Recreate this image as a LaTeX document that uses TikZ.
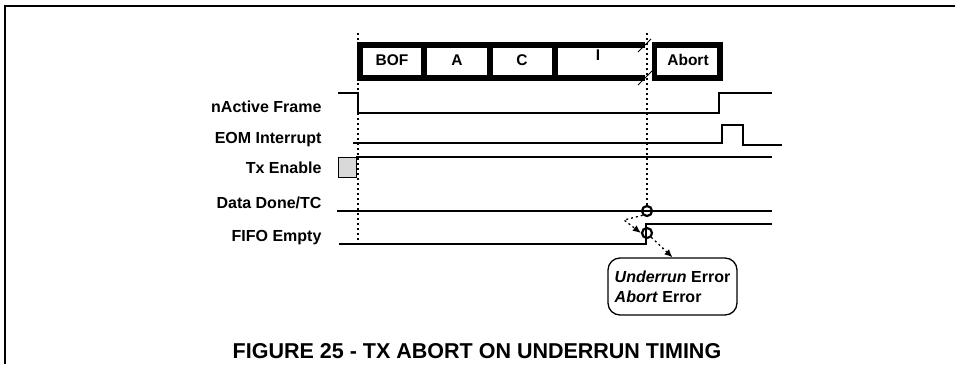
\documentclass[tikz,border=0pt]{standalone}
\usepackage{fontspec}
\setmainfont{Liberation Sans}
\usetikzlibrary{arrows.meta}
\begin{document}
\begin{tikzpicture}[x=1pt, y=-1pt, >={Latex[length=8pt,width=7pt]},
    sig/.style={line width=2pt},
    bar/.style={line width=5.5pt},
    lbl/.style={anchor=base east, font=\fontsize{16}{19}\selectfont\bfseries},
    field/.style={font=\fontsize{15.5}{18}\selectfont\bfseries},
    dots/.style={line width=1.3pt, dash pattern=on 2pt off 3pt},
    evmark/.style={draw, circle, line width=2.2pt, minimum size=10pt, inner sep=0pt}]
\useasboundingbox (0,0) rectangle (955,364);
\draw[line width=2.5pt] (955,6)--(5,6)--(5,364);

% frame fields
\draw[bar] (360,44.8) rectangle (424,78.2);
\draw[bar] (424,44.8) rectangle (490,78.2);
\draw[bar] (490,44.8) rectangle (555,78.2);
\draw[bar] (645,44.8)--(555,44.8)--(555,78.2)--(645,78.2);
\draw[bar] (654.5,44.8) rectangle (720,78.2);
\draw[line width=1pt] (638,52)--(651,39) (638,85)--(652,71);
\node[field] (bof) at (392,60){BOF};
\node[field] (fa) at (457,60){A};
\node[field] (fc) at (522,60){C};
\node[field] (fi) at (598,55){I};
\node[field] (abort) at (688,60){Abort};

\draw[dots] (358,33)--(358,242);
\draw[dots] (647,33)--(647,206);

% signals
\node[lbl] (nact) at (325,112){nActive Frame};
\draw[sig] (338,93)--(358,93)--(358,113)--(719,113)--(719,93)--(772,93);
\node[lbl] (eom) at (325,143){EOM Interrupt};
\draw[sig] (353,143)--(722,143)--(722,125)--(743,125)--(743,145)--(782,145);
\node[lbl] (txen) at (325,173){Tx Enable};
\draw[sig] (356,157)--(772,157);
\draw[fill=gray!30, line width=1pt] (338,157) rectangle (356,177);
\node[lbl] (ddone) at (325,208){Data Done/TC};
\draw[sig] (337,211)--(772,211);
\node[lbl] (fifo) at (325,241){FIFO Empty};
\draw[sig] (339,244)--(646,244)--(646,224)--(772,224);

\node[evmark] (ddmark) at (647,211){};
\node[evmark] (femark) at (647,233){};

\node[draw, line width=1.3pt, rounded corners=12pt, minimum width=129pt, minimum height=57pt,
    inner sep=0pt, align=left, font=\fontsize{16}{20}\selectfont\bfseries] (errbox) at (672.5,286.5)
    {\textit{Underrun} Error\\\textit{Abort} Error};
\draw[dots,->] (ddmark.south west)--(624,220)--(femark.west);
\draw[dots,->] (femark.south east)--(errbox.north);

\node[anchor=base, font=\fontsize{21.5}{26}\selectfont\bfseries] (caption) at (477,358)
    {FIGURE 25 - TX ABORT ON UNDERRUN TIMING};
\end{tikzpicture}
\end{document}
